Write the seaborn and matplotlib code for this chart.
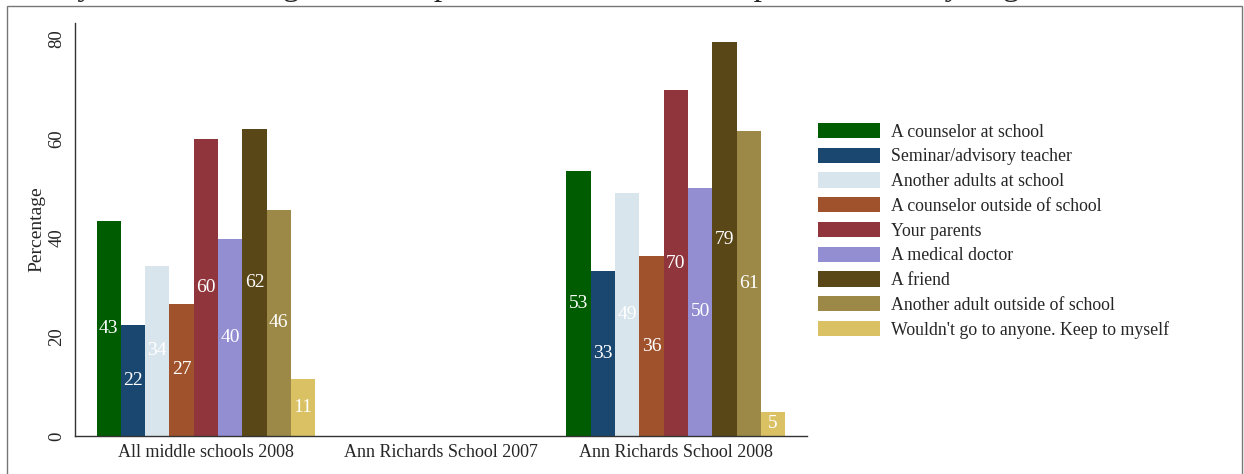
# Import libraries
import pandas as pd
import numpy as np
import matplotlib.pyplot as plt
from matplotlib.patches import Rectangle
import seaborn as sns

# -----------------------------------
# Data
groups = ["All middle schools 2008", "Ann Richards School 2007", "Ann Richards School 2008"]
answers = [
    "A counselor at school",
    "Seminar/advisory teacher",
    "Another adults at school",
    "A counselor outside of school",
    "Your parents",
    "A medical doctor",
    "A friend",
    "Another adult outside of school",
    "Wouldn't go to anyone. Keep to myself",
]
all_middle_2008 = [43.4, 22.4, 34.3, 26.7, 59.8, 39.8, 61.8, 45.6, 11.4]
ann_richards_2007 = [np.nan] * 9
ann_richards_2008 = [53.4, 33.3, 48.9, 36.2, 69.7, 50.0, 79.4, 61.4, 4.9]
colors = ["#005c00", "#1a476f", "#d9e5ec", "#a0522d", "#90353b",
          "#938dd2", "#5a4718", "#9d8947", "#d9c164"]
title = "Q: If you were having a serious problem and needed help, who would you go to?"

df = pd.DataFrame({
    "group": np.repeat(groups, len(answers)),
    "answer": answers * len(groups),
    "pct": all_middle_2008 + ann_richards_2007 + ann_richards_2008,
})

# -----------------------------------
# Style
sns.set_style("white")
plt.rcParams["font.family"] = ["Liberation Serif", "DejaVu Serif"]

fig = plt.figure(figsize=(12.44, 4.74), dpi=100)
ax = fig.add_axes([0.0603, 0.0802, 0.5882, 0.8718])

sns.barplot(data=df.dropna(), x="group", y="pct", hue="answer", order=groups,
            hue_order=answers, palette=colors, width=0.931, saturation=1,
            linewidth=0, ax=ax)

for cont in ax.containers:
    ax.bar_label(cont, fmt="%.0f", label_type="center", color="white", fontsize=14)

ax.set_xlim(-0.557, 2.557)
ax.set_ylim(0, 83.3)
ax.set_yticks([0, 20, 40, 60, 80])
ax.set_xlabel("")
ax.set_ylabel("Percentage", fontsize=14, labelpad=2)
ax.tick_params(axis="y", length=5, width=0.8, color="#333333", pad=2, labelsize=13.5)
ax.tick_params(axis="x", length=0, pad=6, labelsize=13)
for lab in ax.get_yticklabels():
    lab.set_rotation(90)
    lab.set_va("center")
sns.despine(ax=ax)
for s in ["left", "bottom"]:
    ax.spines[s].set_color("#333333")
    ax.spines[s].set_linewidth(1)

leg = ax.legend(loc="upper left", bbox_to_anchor=(818 / 1244, 1 - 123 / 474),
                bbox_transform=fig.transFigure, frameon=False, fontsize=12.8,
                handlelength=3.5, handleheight=0.95, handletextpad=0.6,
                labelspacing=0.39, borderpad=0, borderaxespad=0, title=None)

# outer frame and clipped title
fig.add_artist(Rectangle((7 / 1244, -0.1), (1241.5 - 7) / 1244, 1.1 - 6 / 474,
                         transform=fig.transFigure, fill=False,
                         edgecolor="#777777", linewidth=1))
fig.text(5 / 1244, 1 + 5 / 474, title, fontsize=24, va="baseline", ha="left")

plt.savefig("out.png", dpi=100)
